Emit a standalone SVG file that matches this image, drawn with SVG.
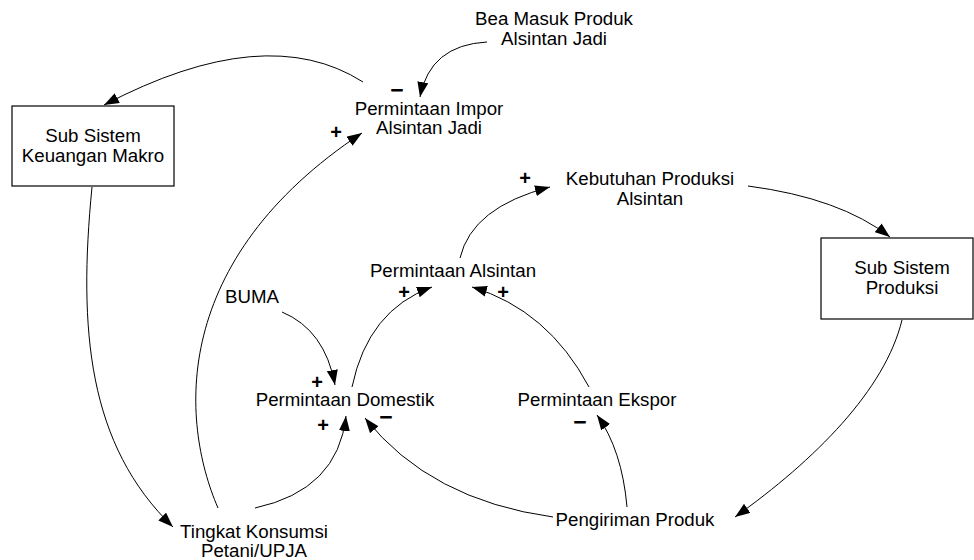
<svg xmlns="http://www.w3.org/2000/svg" width="974" height="560" viewBox="0 0 974 560">
<defs>
<marker id="ah" markerUnits="userSpaceOnUse" markerWidth="15" markerHeight="11" refX="15" refY="5.5" orient="auto">
<path d="M0,0 L15,5.5 L0,11 z" fill="#000"/>
</marker>
<style>
.t{font-family:"Liberation Sans",Arial,sans-serif;font-size:18.7px;fill:#000;text-anchor:middle}
.s{font-family:"Liberation Sans",Arial,sans-serif;font-size:20px;font-weight:bold;fill:#000;text-anchor:middle}
.m{font-family:"Liberation Sans",Arial,sans-serif;font-size:23px;font-weight:bold;fill:#000;text-anchor:middle}
.b{fill:#fff;stroke:#000;stroke-width:1.2}
.c{fill:none;stroke:#000;stroke-width:1;marker-end:url(#ah)}
</style>
</defs>
<rect width="974" height="560" fill="#fff"/>
<g id="connectors">
<path class="c" d="M363,82 Q266,20 104,105"/>
<path class="c" d="M487,42 Q430,45 420,97"/>
<path class="c" d="M218,508 C180,420 170,260 362,133"/>
<path class="c" d="M92,187 C78,330 88,445 173,527"/>
<path class="c" d="M255,508 Q338,490 346,416"/>
<path class="c" d="M282,312 Q325,330 335,385"/>
<path class="c" d="M352,387 Q368,310 432,287"/>
<path class="c" d="M589,387 Q548,310 472,287"/>
<path class="c" d="M460,258 Q472,207 550,187"/>
<path class="c" d="M748,186 Q840,198 890,237"/>
<path class="c" d="M902,320 C885,390 815,460 735,517"/>
<path class="c" d="M627,507 Q622,450 597,415"/>
<path class="c" d="M553,517 Q430,500 365,418"/>
</g>
<g id="signs">
<text class="m" x="397" y="98">−</text>
<text class="s" x="336" y="139">+</text>
<text class="s" x="525" y="185">+</text>
<text class="s" x="503" y="299">+</text>
<text class="s" x="404" y="299">+</text>
<text class="s" x="317" y="389">+</text>
<text class="s" x="323" y="432">+</text>
<text class="m" x="386" y="425">−</text>
<text class="m" x="580" y="430">−</text>
</g>
<g id="keuangan">
<rect class="b" x="12" y="106" width="162" height="80"/>
<text class="t" x="93" y="142">Sub Sistem</text>
<text class="t" x="93" y="162">Keuangan Makro</text>
</g>
<g id="produksi">
<rect class="b" x="821" y="238" width="152" height="81"/>
<text class="t" x="902" y="274">Sub Sistem</text>
<text class="t" x="902" y="294">Produksi</text>
</g>
<g id="bea">
<text class="t" x="554" y="25">Bea Masuk Produk</text>
<text class="t" x="554" y="45">Alsintan Jadi</text>
</g>
<g id="impor">
<text class="t" x="429" y="115">Permintaan Impor</text>
<text class="t" x="429" y="134">Alsintan Jadi</text>
</g>
<g id="kebutuhan">
<text class="t" x="650" y="185">Kebutuhan Produksi</text>
<text class="t" x="650" y="205">Alsintan</text>
</g>
<g id="alsintan">
<text class="t" x="453" y="277">Permintaan Alsintan</text>
</g>
<g id="buma">
<text class="t" x="252" y="303">BUMA</text>
</g>
<g id="domestik">
<text class="t" x="345" y="406">Permintaan Domestik</text>
</g>
<g id="ekspor">
<text class="t" x="597" y="406">Permintaan Ekspor</text>
</g>
<g id="pengiriman">
<text class="t" x="635" y="526">Pengiriman Produk</text>
</g>
<g id="tingkat">
<text class="t" x="254" y="538">Tingkat Konsumsi</text>
<text class="t" x="254" y="557">Petani/UPJA</text>
</g>
</svg>
